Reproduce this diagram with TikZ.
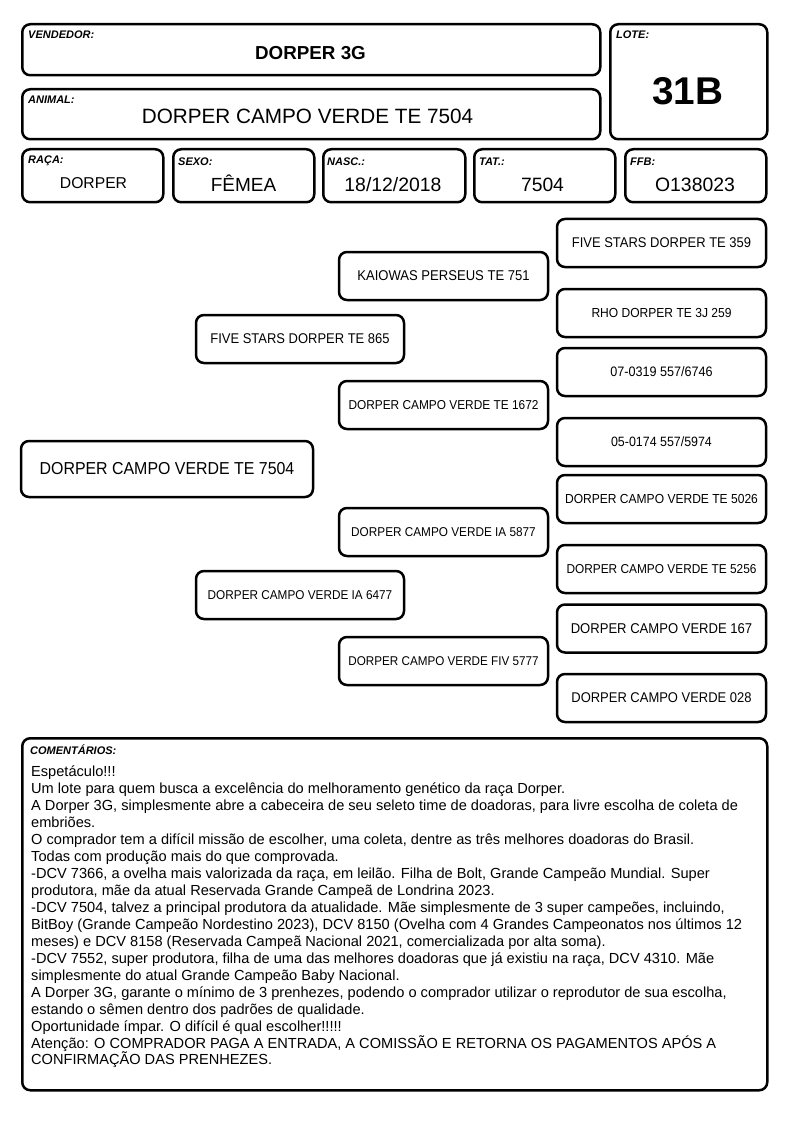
\documentclass[tikz,border=0pt]{standalone}
\usepackage{fontspec}
\setmainfont{Liberation Sans}
\newfontfamily\nar[FakeStretch=0.92]{Liberation Sans}
\newfontfamily\cmtfont{Liberation Sans}
\begin{document}
\begin{tikzpicture}[x=1pt,y=-1pt,
  box/.style={draw, line width=2.5pt, rounded corners=8pt, anchor=north west, inner sep=0pt},
  lbl/.style={anchor=base west, inner sep=0pt, font=\fontsize{11}{12}\selectfont\bfseries\itshape},
  val/.style={anchor=base, inner sep=0pt},
  ped/.style={draw, line width=2.5pt, rounded corners=8pt, inner sep=0pt, minimum width=209pt, minimum height=48pt},
]
\useasboundingbox (0,0) rectangle (794,1123);
% header boxes
\node[box, minimum width=578pt, minimum height=51pt] (vend) at (21,23) {};
\node[box, minimum width=578pt, minimum height=50pt] (anim) at (21,88) {};
\node[box, minimum width=157pt, minimum height=115pt] (lote) at (609,23) {};
\node[box, minimum width=141pt, minimum height=53pt] (raca) at (21,148) {};
\node[box, minimum width=141pt, minimum height=53pt] (sexo) at (172,148) {};
\node[box, minimum width=142pt, minimum height=53pt] (nasc) at (322,148) {};
\node[box, minimum width=141pt, minimum height=53pt] (tat) at (473,148) {};
\node[box, minimum width=141pt, minimum height=53pt] (ffb) at (624,148) {};
% labels
\node[lbl] (lvend) at (28,39) {VENDEDOR:};
\node[lbl] (lanim) at (28,103.3) {ANIMAL:};
\node[lbl] (llote) at (616,39) {LOTE:};
\node[lbl] (lraca) at (28,164) {RAÇA:};
\node[lbl] (lsexo) at (178,165.5) {SEXO:};
\node[lbl] (lnasc) at (327,165.5) {NASC.:};
\node[lbl] (ltat) at (479,165.5) {TAT.:};
\node[lbl] (lffb) at (630,165.5) {FFB:};
% values
\node[val, font=\fontsize{18.8}{20}\selectfont\bfseries] (vvend) at (310.5,60) {DORPER 3G};
\node[val, font=\fontsize{20.7}{22}\selectfont] (vanim) at (307.5,123.3) {DORPER CAMPO VERDE TE 7504};
\node[val, font=\fontsize{38.7}{40}\selectfont\bfseries] (vlote) at (687.5,105) {31B};
\node[val, font=\fontsize{15.7}{17}\selectfont] (vraca) at (93.5,188.5) {DORPER};
\node[val, font=\fontsize{19}{20}\selectfont] (vsexo) at (243.5,191.7) {FÊMEA};
\node[val, font=\fontsize{19.4}{20}\selectfont] (vnasc) at (393,191.7) {18/12/2018};
\node[val, font=\fontsize{19.3}{20}\selectfont] (vtat) at (542.5,191.7) {7504};
\node[val, font=\fontsize{19.4}{20}\selectfont] (vffb) at (695,191.7) {O138023};
% pedigree
\node[ped, minimum width=292pt, minimum height=56pt, font=\nar\fontsize{17.3}{19}\selectfont] (main) at (167,469) {DORPER CAMPO VERDE TE 7504};
\node[ped, minimum width=208pt, font=\nar\fontsize{14.1}{16}\selectfont] (p) at (300,339) {FIVE STARS DORPER TE 865};
\node[ped, minimum width=208pt, font=\nar\fontsize{12.8}{15}\selectfont] (m) at (300,595) {DORPER CAMPO VERDE IA 6477};
\node[ped, font=\nar\fontsize{14.2}{16}\selectfont] (pp) at (443.5,276) {KAIOWAS PERSEUS TE 751};
\node[ped, font=\nar\fontsize{12.9}{15}\selectfont] (pm) at (443.5,405) {DORPER CAMPO VERDE TE 1672};
\node[ped, font=\nar\fontsize{12.8}{15}\selectfont] (mp) at (443.5,532) {DORPER CAMPO VERDE IA 5877};
\node[ped, font=\nar\fontsize{12.7}{15}\selectfont] (mm) at (443.5,661) {DORPER CAMPO VERDE FIV 5777};
\node[ped, font=\nar\fontsize{14.1}{16}\selectfont] (ppp) at (661.5,243) {FIVE STARS DORPER TE 359};
\node[ped, font=\nar\fontsize{13.1}{15}\selectfont] (ppm) at (661.5,313) {RHO DORPER TE 3J 259};
\node[ped, font=\nar\fontsize{13.7}{15}\selectfont] (pmp) at (661.5,372) {07-0319 557/6746};
\node[ped, font=\nar\fontsize{13.5}{15}\selectfont] (pmm) at (661.5,442) {05-0174 557/5974};
\node[ped, font=\nar\fontsize{13.1}{15}\selectfont] (mpp) at (661.5,499) {DORPER CAMPO VERDE TE 5026};
\node[ped, font=\nar\fontsize{12.9}{15}\selectfont] (mpm) at (661.5,569) {DORPER CAMPO VERDE TE 5256};
\node[ped, font=\nar\fontsize{14.2}{16}\selectfont] (mmp) at (661.5,628.5) {DORPER CAMPO VERDE 167};
\node[ped, font=\nar\fontsize{14.1}{16}\selectfont] (mmm) at (661.5,698) {DORPER CAMPO VERDE 028};
% comments
\node[box, minimum width=745pt, minimum height=352pt] (com) at (21,737) {};
\node[lbl, font=\cmtfont\fontsize{11}{12}\selectfont\bfseries\itshape] (lcom) at (30,754.3) {COMENTÁRIOS:};
\node[anchor=north west, inner sep=0pt, align=left, font=\cmtfont\fontsize{14.6}{16.94}\selectfont] (tcom) at (31,766) {Espetáculo!!!\\
Um lote para quem busca a excelência do melhoramento genético da raça Dorper.\\
A Dorper 3G, simplesmente abre a cabeceira de seu seleto time de doadoras, para livre escolha de coleta de\\
embriões.\\
O comprador tem a difícil missão de escolher, uma coleta, dentre as três melhores doadoras do Brasil.\\
Todas com produção mais do que comprovada.\\
-DCV 7366, a ovelha mais valorizada da raça, em leilão. Filha de Bolt, Grande Campeão Mundial. Super\\
produtora, mãe da atual Reservada Grande Campeã de Londrina 2023.\\
-DCV 7504, talvez a principal produtora da atualidade. Mãe simplesmente de 3 super campeões, incluindo,\\
BitBoy (Grande Campeão Nordestino 2023), DCV 8150 (Ovelha com 4 Grandes Campeonatos nos últimos 12\\
meses) e DCV 8158 (Reservada Campeã Nacional 2021, comercializada por alta soma).\\
-DCV 7552, super produtora, filha de uma das melhores doadoras que já existiu na raça, DCV 4310. Mãe\\
simplesmente do atual Grande Campeão Baby Nacional.\\
A Dorper 3G, garante o mínimo de 3 prenhezes, podendo o comprador utilizar o reprodutor de sua escolha,\\
estando o sêmen dentro dos padrões de qualidade.\\
Oportunidade ímpar. O difícil é qual escolher!!!!!\\
Atenção: O COMPRADOR PAGA A ENTRADA, A COMISSÃO E RETORNA OS PAGAMENTOS APÓS A\\
CONFIRMAÇÃO DAS PRENHEZES.};
\end{tikzpicture}
\end{document}
